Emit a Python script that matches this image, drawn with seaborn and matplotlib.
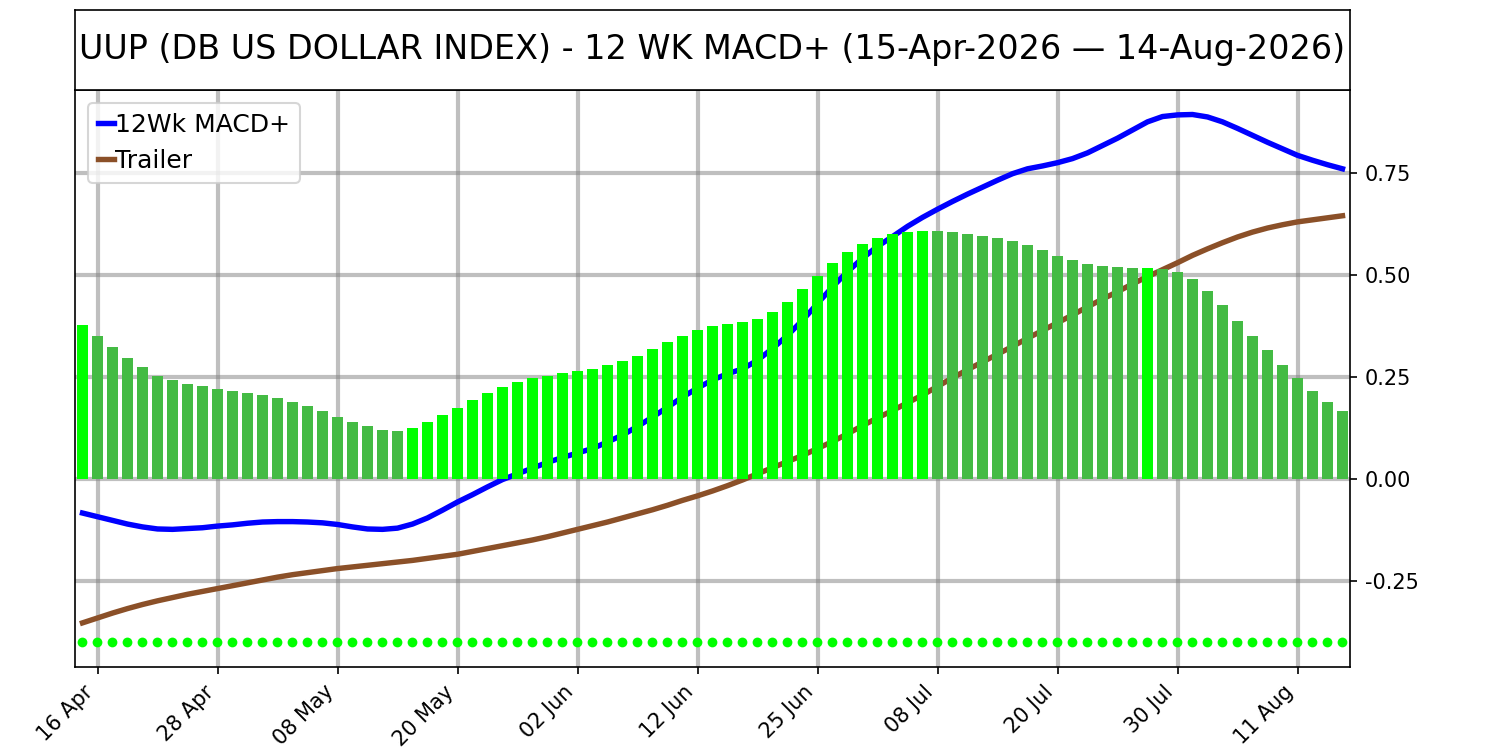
import pandas as pd
import seaborn as sns
import matplotlib.pyplot as plt
from matplotlib.ticker import FormatStrFormatter

# US trading days, 15 Apr 2026 to 14 Aug 2026
holidays = ['2026-05-25', '2026-06-19', '2026-07-03']
dates = pd.bdate_range('2026-04-15', '2026-08-14', freq='C', holidays=holidays)

# histogram bars
hist = [0.377, 0.350, 0.323, 0.296, 0.274, 0.253, 0.242, 0.232, 0.227, 0.220,
        0.215, 0.212, 0.207, 0.198, 0.188, 0.178, 0.168, 0.153, 0.141, 0.129,
        0.121, 0.119, 0.126, 0.139, 0.156, 0.175, 0.193, 0.210, 0.225, 0.237,
        0.247, 0.253, 0.259, 0.264, 0.269, 0.279, 0.289, 0.301, 0.318, 0.335,
        0.350, 0.365, 0.375, 0.380, 0.384, 0.392, 0.409, 0.434, 0.466, 0.498,
        0.530, 0.557, 0.576, 0.591, 0.601, 0.606, 0.608, 0.607, 0.605, 0.601,
        0.596, 0.591, 0.584, 0.574, 0.561, 0.547, 0.537, 0.527, 0.522, 0.520,
        0.516, 0.518, 0.515, 0.507, 0.490, 0.461, 0.426, 0.387, 0.350, 0.316,
        0.279, 0.247, 0.217, 0.190, 0.166]

# 12Wk MACD+ line
macd = [-0.083, -0.092, -0.101, -0.110, -0.117, -0.122, -0.123, -0.121, -0.119, -0.115,
        -0.112, -0.108, -0.105, -0.104, -0.104, -0.105, -0.107, -0.111, -0.117, -0.122,
        -0.123, -0.120, -0.110, -0.095, -0.076, -0.056, -0.038, -0.019, -0.001, 0.013,
        0.027, 0.041, 0.053, 0.064, 0.075, 0.091, 0.108, 0.129, 0.152, 0.176,
        0.201, 0.223, 0.243, 0.258, 0.270, 0.291, 0.320, 0.352, 0.389, 0.430,
        0.471, 0.508, 0.541, 0.570, 0.594, 0.619, 0.641, 0.661, 0.680, 0.698,
        0.715, 0.732, 0.748, 0.760, 0.767, 0.775, 0.785, 0.799, 0.817, 0.835,
        0.855, 0.875, 0.888, 0.892, 0.893, 0.887, 0.875, 0.859, 0.842, 0.825,
        0.809, 0.793, 0.781, 0.770, 0.760]

# Trailer line
trailer = [-0.352, -0.340, -0.328, -0.317, -0.307, -0.298, -0.290, -0.282, -0.275, -0.268,
           -0.261, -0.254, -0.247, -0.240, -0.234, -0.229, -0.224, -0.219, -0.215, -0.211,
           -0.207, -0.203, -0.199, -0.194, -0.189, -0.184, -0.177, -0.170, -0.163, -0.156,
           -0.149, -0.141, -0.132, -0.123, -0.114, -0.105, -0.095, -0.085, -0.075, -0.064,
           -0.052, -0.041, -0.029, -0.016, -0.002, 0.013, 0.028, 0.043, 0.058, 0.075,
           0.092, 0.111, 0.131, 0.150, 0.168, 0.187, 0.206, 0.227, 0.248, 0.268,
           0.287, 0.306, 0.325, 0.345, 0.364, 0.383, 0.402, 0.422, 0.441, 0.459,
           0.478, 0.496, 0.513, 0.530, 0.548, 0.564, 0.579, 0.593, 0.605, 0.615,
           0.623, 0.630, 0.635, 0.640, 0.645]

# signal dots row
signal_level = -0.40

df = pd.DataFrame({'date': dates, 'hist': hist, 'macd': macd, 'trailer': trailer})
df['pos'] = range(len(df))
df['signal'] = signal_level
rising = df['hist'].diff().fillna(1) > 0
bar_colors = ['#00ff00' if r else '#44bb44' for r in rising]

fig = plt.figure(figsize=(10, 5), dpi=150)
ax = fig.add_axes([0.05, 0.1107, 0.85, 0.7693])
tax = fig.add_axes([0.05, 0.88, 0.85, 0.1067])

ax.set_axisbelow(True)
ax.grid(True, color='gray', alpha=0.5, linewidth=2)

sns.lineplot(data=df, x='pos', y='macd', ax=ax, color='blue', linewidth=2.6,
             label='12Wk MACD+', zorder=1.5)
sns.lineplot(data=df, x='pos', y='trailer', ax=ax, color='#8b5028', linewidth=2.6,
             label='Trailer', zorder=1.5)
ax.bar(df['pos'], df['hist'], width=0.72, color=bar_colors, zorder=2)
sns.scatterplot(data=df, x='pos', y='signal', ax=ax, color='#00ff00', s=22,
                edgecolor='none', zorder=3)

ax.set_xlim(-0.5, len(df) - 0.5)
ax.set_ylim(-0.46, 0.953)
ax.yaxis.tick_right()
ax.set_yticks([-0.25, 0, 0.25, 0.5, 0.75])
ax.yaxis.set_major_formatter(FormatStrFormatter('%.2f'))
tick_pos = list(range(1, len(df), 8))
ax.set_xticks(tick_pos)
ax.set_xticklabels([df['date'][i].strftime('%d %b') for i in tick_pos],
                   rotation=45, ha='right')
ax.tick_params(labelsize=10)
ax.set_xlabel('')
ax.set_ylabel('')
ax.legend(loc='upper left', fontsize=12, handlelength=0.65, handletextpad=0.05)

tax.set_xticks([])
tax.set_yticks([])
tax.text(0.5, 0.5, 'UUP (DB US DOLLAR INDEX) - 12 WK MACD+ (15-Apr-2026 \u2014 14-Aug-2026)',
         ha='center', va='center', fontsize=16, transform=tax.transAxes)

fig.savefig('out.png')
